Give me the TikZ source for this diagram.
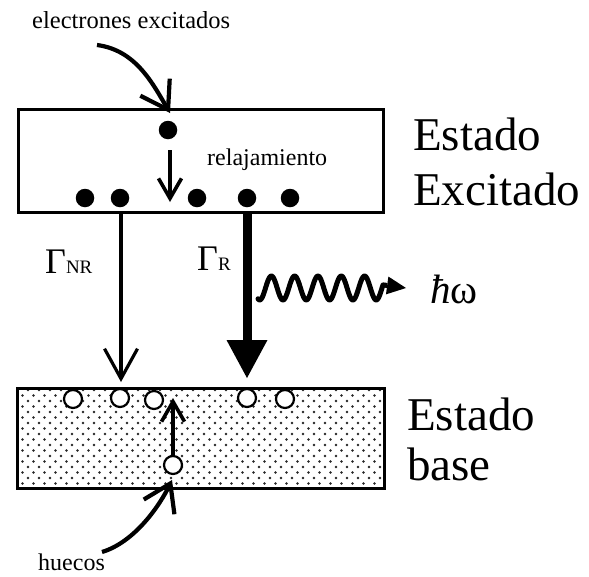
\documentclass[tikz,border=0pt]{standalone}
\usepackage{fontspec}
\setmainfont{Liberation Serif}
\usetikzlibrary{arrows.meta}
\begin{document}
\begin{tikzpicture}[x=1pt,y=-1pt,
  boxframe/.style={draw=black, line width=2.6pt, inner sep=0pt, anchor=north west},
  electron/.style={circle, fill=black, inner sep=0pt, minimum size=18.5pt},
  hole/.style={circle, draw=black, fill=white, line width=2.2pt, inner sep=0pt, minimum size=18pt},
  lbl/.style={inner sep=0pt, anchor=base west},
  small/.style={lbl, font=\fontsize{24.5}{28}\selectfont},
  big/.style={lbl, font=\fontsize{47}{55}\selectfont},
  barbarrow/.style={line width=4.2pt, -{Straight Barb[length=26pt,width=34pt]}},
  thinarrow/.style={line width=3.2pt, -{Straight Barb[length=30pt,width=33pt]}},
  relaxarrow/.style={line width=3.6pt, -{Straight Barb[length=20pt,width=23pt]}},
  radarrow/.style={line width=9pt, -{Triangle[length=38pt,width=41pt,line width=0pt]}},
  wavestyle/.style={line width=5pt, line cap=round, line join=round},
  gsdot/.style={fill=black!85}
]
\useasboundingbox (0,0) rectangle (589,576);

% excited state box
\node[boxframe, minimum width=365pt, minimum height=103pt] (exc) at (17,108) {};

% ground state box with dotted fill
\begin{scope}
  \clip (16,387) rectangle (383,487);
  \foreach \r in {0,...,18} {
    \foreach \c in {0,...,34} {
      \fill[gsdot] ({17 + 11*\c + 5.5*mod(\r,2)}, {390 + 5.5*\r}) circle (1.45pt);
    }
  }
\end{scope}
\node[boxframe, minimum width=367pt, minimum height=100pt] (gs) at (16,387) {};

% labels
\node[small] (lex) at (32,28) {electrones excitados};
\node[small, font=\fontsize{24}{28}\selectfont] (lrel) at (207,165) {relajamiento};
\node[small, font=\fontsize{24}{28}\selectfont] (lhue) at (38,570) {huecos};
\node[big] (est1) at (413,150) {Estado};
\node[big] (est2) at (413,205) {Excitado};
\node[big] (est3) at (407,430) {Estado};
\node[big] (est4) at (407,480) {base};
\node[lbl, font=\fontsize{36}{40}\selectfont] (gnr) at (45,273) {Γ{\fontsize{19}{20}\selectfont NR}};
\node[lbl, font=\fontsize{36}{40}\selectfont] (gr) at (197,270) {Γ{\fontsize{19}{20}\selectfont R}};
\node[lbl, font=\fontsize{41}{45}\selectfont] (hw) at (430,303) {\textit{ħ}ω};

% electrons
\node[electron] (e0) at (168,130) {};
\node[electron] (e1) at (85,198) {};
\node[electron] (e2) at (120,198) {};
\node[electron] (e3) at (197,198) {};
\node[electron] (e4) at (247,198) {};
\node[electron] (e5) at (290,198) {};

% holes
\node[hole] (h1) at (73,399) {};
\node[hole] (h2) at (120,398) {};
\node[hole] (h3) at (154,400) {};
\node[hole] (h4) at (247,398) {};
\node[hole] (h5) at (285,399) {};
\node[hole] (h6) at (173,465) {};

% coordinates
\coordinate (cin) at (97,45);
\coordinate (cintip) at (170,113);
\coordinate (rs) at (170,150);
\coordinate (re) at (170,202);
\coordinate (nrs) at (121,214);
\coordinate (nre) at (121,382);
\coordinate (rrs) at (247,213);
\coordinate (rre) at (247,378);
\coordinate (hin) at (102,552);
\coordinate (hintip) at (172,480);
\coordinate (hup) at (173,398);
\coordinate (wend) at (383,{288+12*cos(15.45*(383-283))});
\coordinate (wtip) at (406,288);

% arrows
\draw[barbarrow] (cin) .. controls (135,50) and (152,82) .. (cintip);
\draw[relaxarrow] (rs) -- (re);
\draw[thinarrow] (nrs) -- (nre);
\draw[radarrow] (rrs) -- (rre);
\draw[barbarrow] (hin) .. controls (135,542) and (160,505) .. (hintip);
\draw[relaxarrow] (h6.north) -- (hup);
\draw[wavestyle] plot[domain=258:383, samples=150] (\x, {288+12*cos(15.45*(\x-283))});
\draw[line width=5pt, -{Triangle[length=19pt,width=18pt,line width=0pt]}] (wend) -- (wtip);
\end{tikzpicture}
\end{document}
